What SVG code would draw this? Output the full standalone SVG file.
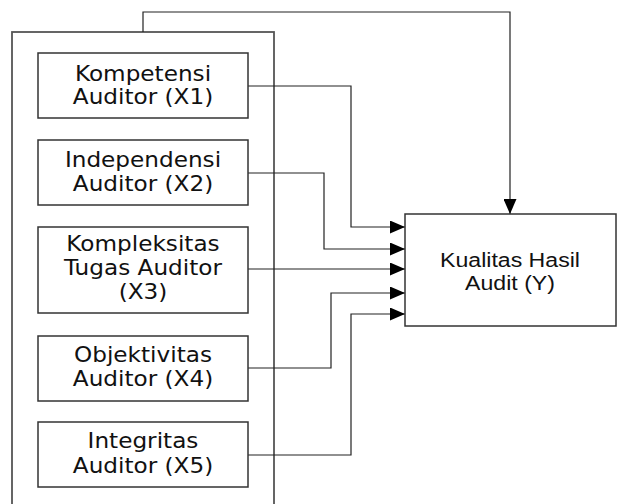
<svg xmlns="http://www.w3.org/2000/svg" width="620" height="504" viewBox="0 0 620 504">
  <defs>
    <marker id="arrow" viewBox="0 0 15 13" refX="15" refY="6.5" markerWidth="15" markerHeight="13" markerUnits="userSpaceOnUse" orient="auto">
      <path d="M0,0 L15,6.5 L0,13 Z" fill="#000"/>
    </marker>
  </defs>
  <style>
    .box { fill: #fff; stroke: #333; stroke-width: 1.5; }
    .frame { fill: none; stroke: #555; stroke-width: 1.8; }
    .wire { fill: none; stroke: #222; stroke-width: 1.2; }
    .lbl { font-family: "DejaVu Sans", Verdana, sans-serif; font-size: 20.5px; fill: #111; text-anchor: middle; }
    .lbly { font-family: "Liberation Sans", Arial, sans-serif; font-size: 21px; fill: #111; text-anchor: middle; }
  </style>

  <rect width="620" height="504" fill="#fff"/>

  <!-- enclosing frame around the independent variables -->
  <g id="frame">
    <rect class="frame" x="12" y="32" width="262" height="490"/>
  </g>

  <!-- connectors -->
  <g id="connectors">
    <polyline class="wire" points="143,32 143,12 510,12 510,214" marker-end="url(#arrow)"/>
    <polyline class="wire" points="248,86 351,86 351,227 405,227" marker-end="url(#arrow)"/>
    <polyline class="wire" points="248,173 324,173 324,249 405,249" marker-end="url(#arrow)"/>
    <polyline class="wire" points="248,269 405,269" marker-end="url(#arrow)"/>
    <polyline class="wire" points="248,368 331,368 331,293 405,293" marker-end="url(#arrow)"/>
    <polyline class="wire" points="248,455 351,455 351,314 405,314" marker-end="url(#arrow)"/>
  </g>

  <!-- labels are widened slightly (wide sans face) -->
  <g id="x1">
    <rect class="box" x="38" y="53" width="210" height="65"/>
    <g transform="translate(143,0) scale(1.13,1)">
      <text class="lbl" x="0" y="81">Kompetensi</text>
      <text class="lbl" x="0" y="104">Auditor (X1)</text>
    </g>
  </g>

  <g id="x2">
    <rect class="box" x="38" y="140" width="210" height="65"/>
    <g transform="translate(143,0) scale(1.13,1)">
      <text class="lbl" x="0" y="167">Independensi</text>
      <text class="lbl" x="0" y="191">Auditor (X2)</text>
    </g>
  </g>

  <g id="x3">
    <rect class="box" x="38" y="227" width="210" height="86"/>
    <g transform="translate(143,0) scale(1.13,1)">
      <text class="lbl" x="0" y="251">Kompleksitas</text>
      <text class="lbl" x="0" y="275">Tugas Auditor</text>
      <text class="lbl" x="0" y="299">(X3)</text>
    </g>
  </g>

  <g id="x4">
    <rect class="box" x="38" y="336" width="210" height="65"/>
    <g transform="translate(143,0) scale(1.13,1)">
      <text class="lbl" x="0" y="362">Objektivitas</text>
      <text class="lbl" x="0" y="386">Auditor (X4)</text>
    </g>
  </g>

  <g id="x5">
    <rect class="box" x="38" y="422" width="210" height="65"/>
    <g transform="translate(143,0) scale(1.13,1)">
      <text class="lbl" x="0" y="448">Integritas</text>
      <text class="lbl" x="0" y="473">Auditor (X5)</text>
    </g>
  </g>

  <g id="y">
    <rect class="box" x="405" y="214" width="211" height="112"/>
    <g transform="translate(510,0) scale(1.1,1)">
      <text class="lbly" x="0" y="267">Kualitas Hasil</text>
      <text class="lbly" x="0" y="290">Audit (Y)</text>
    </g>
  </g>
</svg>
